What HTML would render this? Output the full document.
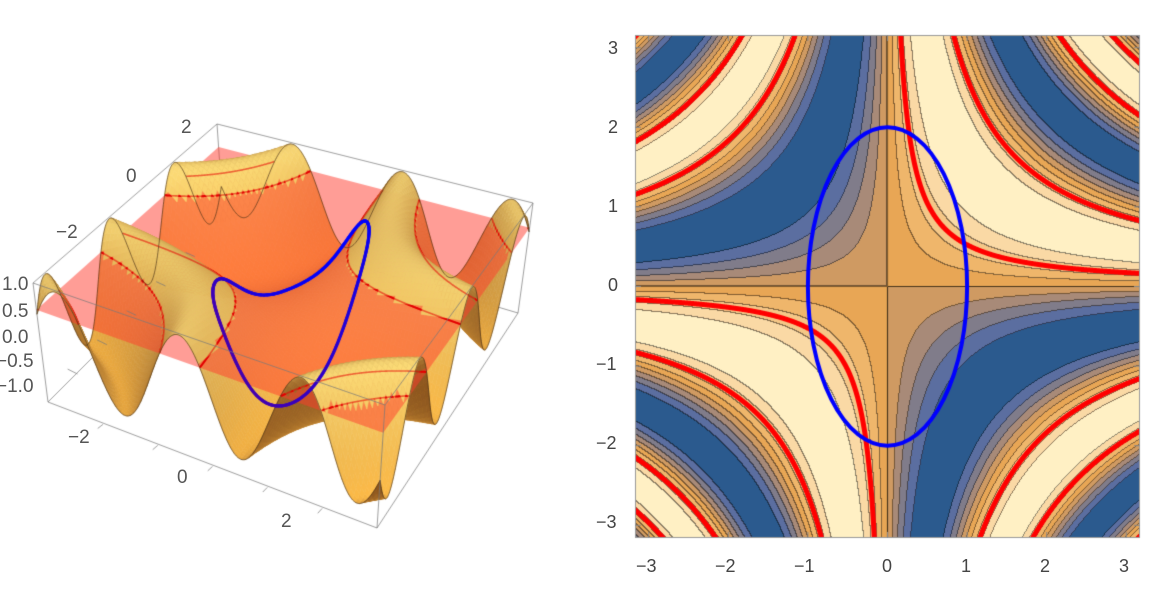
<!DOCTYPE html>
<html><head><meta charset="utf-8">
<style>
html,body{margin:0;padding:0;background:#fff;width:1152px;height:602px;overflow:hidden;position:relative;font-family:"Liberation Sans",sans-serif;}
canvas{position:absolute;}
.l{position:absolute;font-size:19px;color:#555;line-height:1;white-space:nowrap;}
.r{position:absolute;font-size:18px;color:#444;line-height:1;white-space:nowrap;}
</style></head><body>
<canvas id="c3" width="560" height="602" style="left:0;top:0"></canvas>
<canvas id="c2" width="560" height="602" style="left:590px;top:0"></canvas>

<div class="l" style="left:181px;top:118px">2</div>
<div class="l" style="left:126px;top:167px">0</div>
<div class="l" style="left:56px;top:223px">−2</div>
<div class="l" style="left:2px;top:275px">1.0</div>
<div class="l" style="left:2px;top:302px">0.5</div>
<div class="l" style="left:2px;top:328px">0.0</div>
<div class="l" style="left:-4px;top:352px">−0.5</div>
<div class="l" style="left:-4px;top:377px">−1.0</div>
<div class="l" style="left:68px;top:428px">−2</div>
<div class="l" style="left:177px;top:468px">0</div>
<div class="l" style="left:281px;top:512px">2</div>

<div class="r" style="left:636px;top:557px">−3</div>
<div class="r" style="left:715px;top:557px">−2</div>
<div class="r" style="left:794px;top:557px">−1</div>
<div class="r" style="left:882px;top:557px">0</div>
<div class="r" style="left:961px;top:557px">1</div>
<div class="r" style="left:1040px;top:557px">2</div>
<div class="r" style="left:1119px;top:557px">3</div>
<div class="r" style="left:608px;top:39px">3</div>
<div class="r" style="left:608px;top:118px">2</div>
<div class="r" style="left:608px;top:197px">1</div>
<div class="r" style="left:608px;top:276px">0</div>
<div class="r" style="left:596px;top:355px">−1</div>
<div class="r" style="left:596px;top:434px">−2</div>
<div class="r" style="left:596px;top:513px">−3</div>

<script>
// ---------- Right contour plot ----------
(function(){
  var cv=document.getElementById('c2'),ctx=cv.getContext('2d');
  var OX=45,OY=35,W=505,H=503,S=79.6,CX=252.5,CY=251.5;
  var bandCols=[[43,90,142],[91,110,160],[128,124,138],[168,138,120],[207,154,98],[232,166,85],[239,182,107],[245,199,135],[250,217,165],[255,240,196]];
  function band(px,py){var x=(px+0.5-CX)/S,y=(CY-py-0.5)/S;var b=Math.floor((Math.sin(x*y)+1)/0.2);return b<0?0:b>9?9:b;}
  var img=ctx.createImageData(W,H),d=img.data;
  var B=new Int8Array((W+1)*(H+1));
  for(var py=0;py<=H;py++)for(var px=0;px<=W;px++)B[py*(W+1)+px]=band(px,py);
  for(var py=0;py<H;py++)for(var px=0;px<W;px++){
    var b=B[py*(W+1)+px],c=bandCols[b],i=(py*W+px)*4;
    var e=(b!=B[py*(W+1)+px+1])||(b!=B[(py+1)*(W+1)+px]);
    var f=e?0.55:1;
    d[i]=c[0]*f;d[i+1]=c[1]*f;d[i+2]=c[2]*f;d[i+3]=255;
  }
  ctx.putImageData(img,OX,OY);
  ctx.save();ctx.beginPath();ctx.rect(OX,OY,W,H);ctx.clip();
  function tp(x,y){return [OX+CX+x*S,OY+CY-y*S];}
  ctx.strokeStyle='rgba(0,0,0,0.45)';ctx.lineWidth=1.2;
  ctx.beginPath();ctx.moveTo(OX,OY+CY);ctx.lineTo(OX+W,OY+CY);ctx.moveTo(OX+CX,OY);ctx.lineTo(OX+CX,OY+H);ctx.stroke();
  var P=Math.PI,cs=[P/6,5*P/6,13*P/6,17*P/6,-7*P/6,-11*P/6,-19*P/6];
  ctx.strokeStyle='#f00';ctx.lineWidth=5;ctx.lineCap='round';
  cs.forEach(function(c){
    [1,-1].forEach(function(sg){
      ctx.beginPath();var st=false;
      for(var k=0;k<=600;k++){
        var x=sg*(0.01+k*3.3/600),y=c/x;
        if(Math.abs(y)>3.5){st=false;continue;}
        var p=tp(x,y);if(!st){ctx.moveTo(p[0],p[1]);st=true;}else ctx.lineTo(p[0],p[1]);
      }
      ctx.stroke();
    });
  });
  ctx.strokeStyle='#0000ff';ctx.lineWidth=4;
  ctx.beginPath();ctx.ellipse(OX+CX,OY+CY,S,2*S,0,0,2*Math.PI);ctx.stroke();
  ctx.restore();
  ctx.strokeStyle='#999';ctx.lineWidth=1;ctx.strokeRect(OX+0.5,OY+0.5,W-1,H-1);
  ctx.strokeStyle='#888';
  for(var k=-3;k<=3;k++){
    var p=tp(k,0);ctx.beginPath();ctx.moveTo(p[0],OY+H);ctx.lineTo(p[0],OY+H-6);ctx.moveTo(p[0],OY);ctx.lineTo(p[0],OY+6);ctx.stroke();
    var q=tp(0,k);ctx.beginPath();ctx.moveTo(OX,q[1]);ctx.lineTo(OX+6,q[1]);ctx.moveTo(OX+W,q[1]);ctx.lineTo(OX+W-6,q[1]);ctx.stroke();
  }
})();

// ---------- Left 3D plot ----------
(function(){
  var cv=document.getElementById('c3'),ctx=cv.getContext('2d');
  var Lt=[33,283],Ft=[385,405],Bt=[217,124],Rt=[533,203];
  var Lb=[48,402],Fb=[377,528],Bb=[224,226],Rb=[518,313];
  function bil(a,b,c,e,u,v){return [a[0]*(1-u)*(1-v)+b[0]*u*(1-v)+c[0]*(1-u)*v+e[0]*u*v,a[1]*(1-u)*(1-v)+b[1]*u*(1-v)+c[1]*(1-u)*v+e[1]*u*v];}
  function P(x,y,z){var u=(x+3)/6,v=(y+3)/6,w=(1.03-z)/2*0.85;var t=bil(Lt,Ft,Bt,Rt,u,v),b=bil(Lb,Fb,Bb,Rb,u,v);return [t[0]+(b[0]-t[0])*w,t[1]+(b[1]-t[1])*w];}
  function f(x,y){return Math.sin(x*y);}
  var N=90,cells=[];
  var L=[0.35,-0.55,0.76];
  for(var i=0;i<N;i++)for(var j=0;j<N;j++){
    var x0=-3+6*i/N,x1=-3+6*(i+1)/N,y0=-3+6*j/N,y1=-3+6*(j+1)/N;
    var xc=(x0+x1)/2,yc=(y0+y1)/2,zc=f(xc,yc);
    var cc=Math.cos(xc*yc);var nx=-yc*cc,ny=-xc*cc,nz=1.8;var nl=Math.sqrt(nx*nx+ny*ny+nz*nz);
    var I=(nx*L[0]+ny*L[1]+nz*L[2])/nl;
    var u=(xc+3)/6,v=(yc+3)/6;
    var zmax=Math.max(f(x0,y0),f(x1,y0),f(x1,y1),f(x0,y1));
    cells.push({x0:x0,x1:x1,y0:y0,y1:y1,z:zc,zm:zmax,I:I,k:(u-v)+0.35*zc});
  }
  cells.sort(function(a,b){return a.k-b.k;});
  function drawCell(c){
    var p1=P(c.x0,c.y0,f(c.x0,c.y0)),p2=P(c.x1,c.y0,f(c.x1,c.y0)),p3=P(c.x1,c.y1,f(c.x1,c.y1)),p4=P(c.x0,c.y1,f(c.x0,c.y1));
    var t=Math.max(0,Math.min(1,(c.I+0.2)/1.2));
    var hi=0.5+0.5*c.z;
    var r=140+112*t,g=85+(100+35*hi)*t,b=30+(40+50*hi)*t;
    var col='rgb('+(r|0)+','+(g|0)+','+(b|0)+')';
    ctx.fillStyle=col;ctx.strokeStyle=col;ctx.lineWidth=0.6;
    ctx.beginPath();ctx.moveTo(p1[0],p1[1]);ctx.lineTo(p2[0],p2[1]);ctx.lineTo(p3[0],p3[1]);ctx.lineTo(p4[0],p4[1]);ctx.closePath();ctx.fill();ctx.stroke();
  }
  ctx.strokeStyle='rgba(120,120,120,0.9)';ctx.lineWidth=0.8;
  function ln(a,b){ctx.beginPath();ctx.moveTo(a[0],a[1]);ctx.lineTo(b[0],b[1]);ctx.stroke();}
  ln(Bt,Bb);ln(Bb,Lb);ln(Bb,Rb);
  cells.forEach(function(c){if(c.z<0.5)drawCell(c);});
  var a=P(-3,-3,0.5),b=P(3,-3,0.5),c=P(3,3,0.5),e=P(-3,3,0.5);
  ctx.fillStyle='rgba(255,60,45,0.5)';
  ctx.beginPath();ctx.moveTo(a[0],a[1]);ctx.lineTo(b[0],b[1]);ctx.lineTo(c[0],c[1]);ctx.lineTo(e[0],e[1]);ctx.closePath();ctx.fill();
  var Pi=Math.PI,cs=[Pi/6,5*Pi/6,13*Pi/6,17*Pi/6,-7*Pi/6,-11*Pi/6];
  ctx.strokeStyle='#e00000';ctx.lineWidth=2;
  cs.forEach(function(cc){[1,-1].forEach(function(sg){
    ctx.beginPath();var st=false;
    for(var k=0;k<=400;k++){var x=sg*(0.01+k*3/400),y=cc/x;if(Math.abs(y)>3||Math.abs(x)>3){st=false;continue;}
      var p=P(x,y,0.5);if(!st){ctx.moveTo(p[0],p[1]);st=true;}else ctx.lineTo(p[0],p[1]);}
    ctx.stroke();});});
  cells.forEach(function(c){if(c.z>=0.5)drawCell(c);});
  // redraw red curves faintly visible through
  ctx.strokeStyle='rgba(230,0,0,0.55)';ctx.lineWidth=1.6;
  cs.forEach(function(cc){[1,-1].forEach(function(sg){
    ctx.beginPath();var st=false;
    for(var k=0;k<=400;k++){var x=sg*(0.01+k*3/400),y=cc/x;if(Math.abs(y)>3||Math.abs(x)>3){st=false;continue;}
      var p=P(x,y,0.5);if(!st){ctx.moveTo(p[0],p[1]);st=true;}else ctx.lineTo(p[0],p[1]);}
    ctx.stroke();});});
  ctx.strokeStyle='rgba(70,45,20,0.8)';ctx.lineWidth=0.8;
  [[1,0],[0,1]].forEach(function(dd){[-3,3].forEach(function(s){
    ctx.beginPath();for(var k=0;k<=300;k++){var t=-3+6*k/300;var x=dd[0]?t:s,y=dd[0]?s:t;var p=P(x,y,f(x,y));if(k==0)ctx.moveTo(p[0],p[1]);else ctx.lineTo(p[0],p[1]);}ctx.stroke();});});
  ctx.lineWidth=3.2;ctx.lineCap='round';
  var prev=null;
  for(var k=0;k<=400;k++){var t=2*Math.PI*k/400;var x=Math.cos(t),y=2*Math.sin(t);var p=P(x,y,f(x,y));
    if(prev){var m=0.5+0.5*Math.sin(t);ctx.strokeStyle='rgb('+((70*(1-m))|0)+',0,'+((255-80*(1-m))|0)+')';ctx.beginPath();ctx.moveTo(prev[0],prev[1]);ctx.lineTo(p[0],p[1]);ctx.stroke();}
    prev=p;}
  ctx.strokeStyle='rgba(120,120,120,0.9)';ctx.lineWidth=0.8;ctx.lineCap='butt';
  ln(Lt,Ft);ln(Ft,Rt);ln(Rt,Bt);ln(Bt,Lt);ln(Lb,Fb);ln(Fb,Rb);ln(Lt,Lb);ln(Ft,Fb);ln(Rt,Rb);
  for(var k=-2;k<=2;k++){var p=P(k,-3,-1.35),q=bil(Lb,Fb,Bb,Rb,(k+3)/6,-0.03);ln(p,q);
    var p2=P(-3,k,-1.35),q2=bil(Lb,Fb,Bb,Rb,-0.03,(k+3)/6);ln(p2,q2);}
})();
</script>
</body></html>
